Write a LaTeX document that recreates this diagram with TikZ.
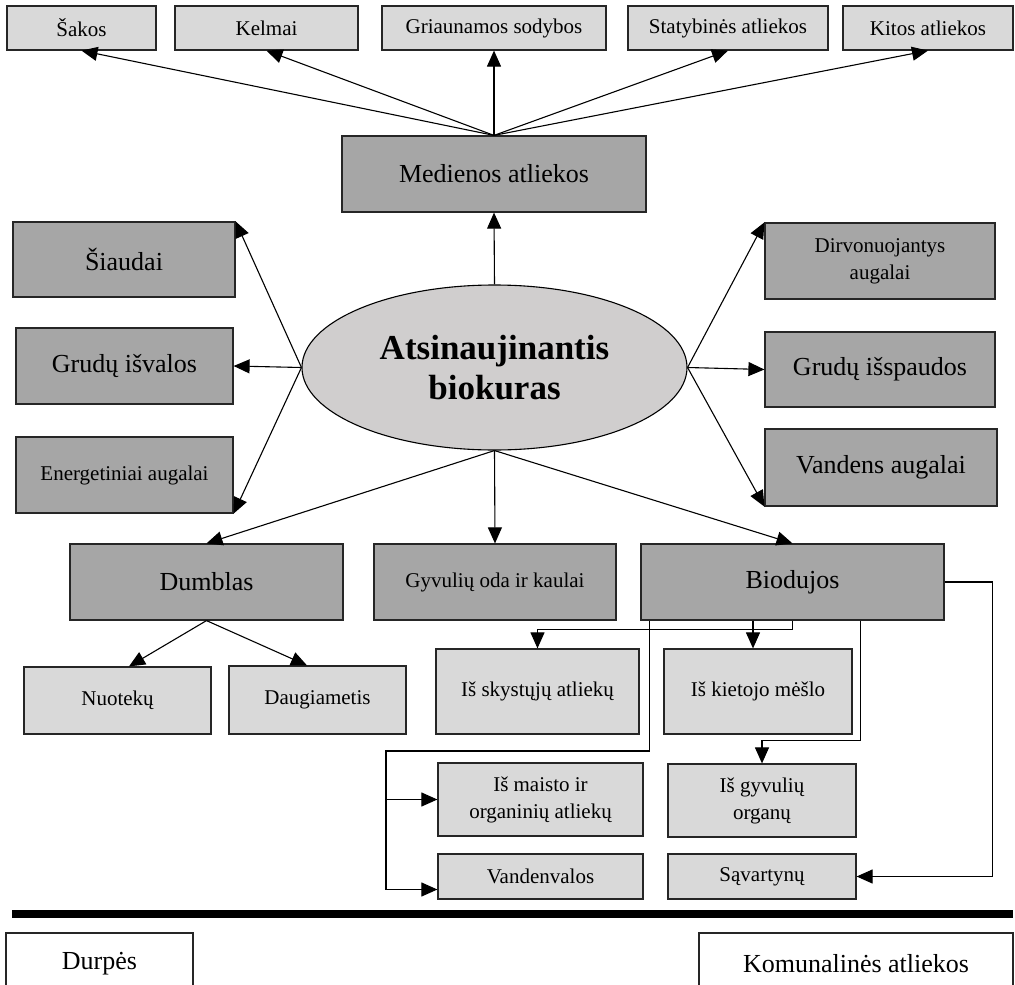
\documentclass[tikz,border=0pt]{standalone}
\usepackage{fontspec}
\setmainfont{Liberation Serif}
\usetikzlibrary{arrows.meta,shapes.geometric,calc}

\definecolor{lightbox}{HTML}{D9D9D9}
\definecolor{darkbox}{HTML}{A6A6A6}
\definecolor{ovalfill}{HTML}{D0CECE}

\begin{document}
\begin{tikzpicture}[x=1pt,y=-1pt,
  basebox/.style={draw=black!85, line width=1.2pt, inner sep=0pt, align=center},
  lbox/.style={basebox, fill=lightbox, font=\fontsize{21}{27}\selectfont},
  dbox/.style={basebox, fill=darkbox, font=\fontsize{26}{31}\selectfont},
  dboxs/.style={basebox, fill=darkbox, font=\fontsize{21}{27}\selectfont},
  wbox/.style={basebox, fill=white, font=\fontsize{26}{31}\selectfont},
  sz/.style 2 args={minimum width=#1, minimum height=#2},
  arr/.style={line width=1.1pt, -{Triangle[length=16pt,width=14pt]}},
  link/.style={line width=1.1pt}
]
\useasboundingbox (0,0) rectangle (1015,985);

% top row: kinds of wood waste
\node[lbox, sz={149}{44}] (sakos)  at (81.5,28)  {Šakos};
\node[lbox, sz={183}{44}] (kelmai) at (266.5,28) {Kelmai};
\node[lbox, sz={224}{44}] (griau)  at (494,28)   {Griaunamos sodybos};
\node[lbox, sz={200}{44}] (stat)   at (728,28)   {Statybinės atliekos};
\node[lbox, sz={170}{44}] (kitos)  at (928,28)   {Kitos atliekos};

\node[dbox, sz={304}{76}] (med) at (494,174) {Medienos atliekos};

% central ellipse
\node[ellipse, draw=black, line width=1.1pt, fill=ovalfill, inner sep=0pt,
      minimum width=385, minimum height=165, align=center,
      font=\fontsize{35}{40}\selectfont\bfseries] (bio0) at (494.5,367.5)
      {Atsinaujinantis\\biokuras};

% left column
\node[dbox,  sz={222}{75}] (siaud) at (124,259.5) {Šiaudai};
\node[dbox,  sz={217}{76}] (isval) at (124.5,366) {Grudų išvalos};
\node[dboxs, sz={217}{76}] (energ) at (124.5,475) {Energetiniai augalai};

% right column
\node[dboxs, sz={230}{76}] (dirv)  at (880,261)   {Dirvonuojantys\\augalai};
\node[dbox,  sz={230}{75}] (issp)  at (880,369.5) {Grudų išspaudos};
\node[dbox,  sz={232}{77}] (vand)  at (881,467.5) {Vandens augalai};

% lower row
\node[dbox,  sz={273}{76}] (dumbl) at (206.5,582) {Dumblas};
\node[dboxs, sz={242}{76}] (gyv)   at (495,582)   {Gyvulių oda ir kaulai};
\node[dbox,  sz={303}{76}] (biod)  at (792.5,582) {Biodujos};

% sludge kinds
\node[lbox, sz={187}{67}] (nuot) at (117.5,700.5) {Nuotekų};
\node[lbox, sz={177}{68}] (daug) at (317.5,700)   {Daugiametis};

% biogas sources
\node[lbox, sz={203}{85}] (skyst)  at (537.5,691.5) {Iš skystųjų atliekų};
\node[lbox, sz={188}{85}] (kiet)   at (758,691.5)   {Iš kietojo mėšlo};
\node[lbox, sz={205}{73}] (maist)  at (540.5,799.5) {Iš maisto ir\\organinių atliekų};
\node[lbox, sz={188}{73}] (organ)  at (762,800.5)   {Iš gyvulių\\organų};
\node[lbox, sz={205}{45}] (vandv)  at (540.5,876.5) {Vandenvalos};
\node[lbox, sz={188}{45}] (savart) at (762,876.5)   {Sąvartynų};

% separator and bottom boxes
\coordinate (sepL) at (12,914);
\coordinate (sepR) at (1013,914);
\draw[line width=8pt] (sepL) -- (sepR);
\node[wbox, sz={187}{62}] (durp)  at (99.5,964) {Durpės};
\node[wbox, sz={314}{62}] (komun) at (856,964)  {Komunalinės atliekos};

% wood waste branches
\foreach \t in {sakos,kelmai,griau,stat,kitos}
  \draw[arr] (med.north) -- (\t.south);
\draw[arr] (bio0.north) -- (med.south);

% side branches
\draw[arr] (bio0.west) -- (siaud.north east);
\draw[arr] (bio0.west) -- (isval.east);
\draw[arr] (bio0.west) -- (energ.south east);
\draw[arr] (bio0.east) -- (dirv.north west);
\draw[arr] (bio0.east) -- (issp.west);
\draw[arr] (bio0.east) -- (vand.south west);

% lower branches
\draw[arr] (bio0.south) -- (dumbl.north);
\draw[arr] (bio0.south) -- (gyv.north);
\draw[arr] (bio0.south) -- (biod.north);

\draw[arr] (dumbl.south) -- ($(nuot.north)+(11.5,0)$);
\draw[arr] (dumbl.south) -- ($(daug.north)+(-10.5,0)$);

% biogas routing
\draw[arr] (biod.south) -- ++(0,9) -| (skyst.north);
\coordinate (k1) at ($(kiet.north)+(-5,0)$);
\draw[arr] (k1 |- biod.south) -- (k1);
\coordinate (b3) at ($(biod.south west)+(9,0)$);
\coordinate (t3) at (386,751);
\coordinate (v3) at ($(vandv.west)+(0,13)$);
\draw[arr] (b3) |- (t3) |- (v3);
\draw[arr] (t3 |- maist.west) -- (maist.west);
\coordinate (b4) at ($(biod.south east)+(-84,0)$);
\draw[arr] (b4) -- ++(0,120) -| (organ.north);
\draw[arr] (biod.east) -- ++(48,0) |- (savart.east);
\end{tikzpicture}
\end{document}
